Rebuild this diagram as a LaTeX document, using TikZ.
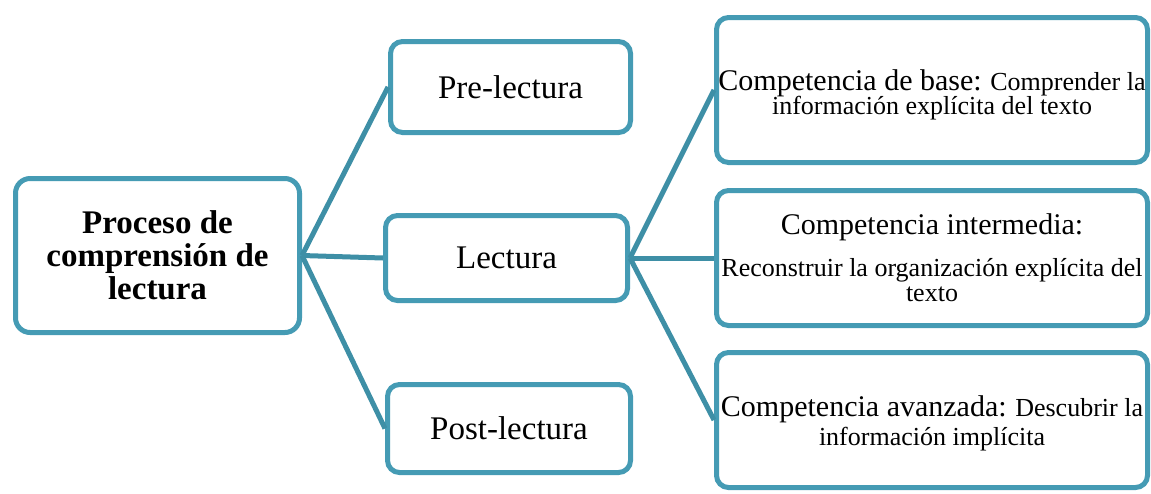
\documentclass[tikz,border=0pt]{standalone}
\usepackage{fontspec}
\setmainfont{Liberation Serif}
\definecolor{boxc}{RGB}{69,155,180}
\definecolor{linec}{RGB}{62,143,166}
\newcommand{\nolsk}{\lineskiplimit=-100pt\relax}
\begin{document}
\begin{tikzpicture}[x=0.75pt,y=-0.75pt,
  box/.style={draw=boxc, line width=3.75pt, rounded corners=9pt, fill=white, inner sep=0pt, align=center, text=black},
  conn/.style={draw=linec, line width=3.75pt},
  big/.style={font=\fontsize{24.75}{24.75}\selectfont\nolsk},
  ]
\useasboundingbox (0,0) rectangle (1151,493);
\node[box, rounded corners=11pt, minimum width=213pt, minimum height=115.5pt, font=\bfseries\fontsize{24.75}{24.75}\selectfont\nolsk] (proc) at (157.5,255.5) {Proceso de\\comprensión de\\lectura};
\node[box, big, minimum width=180pt, minimum height=68.25pt] (pre) at (510.5,87) {Pre-lectura};
\node[box, big, minimum width=181.5pt, minimum height=63.75pt] (lec) at (506.5,258) {Lectura};
\node[box, big, minimum width=182.25pt, minimum height=66pt] (post) at (509,428.5) {Post-lectura};
\node[box, minimum width=323.25pt, minimum height=108.75pt, font=\fontsize{19.5}{18}\selectfont\nolsk] (c1) at (932,90)
  {\rule{0pt}{22.5pt}{\fontsize{22.5}{18}\selectfont Competencia de base:} Comprender la\\información explícita del texto};
\node[box, minimum width=323.25pt, minimum height=101.25pt, font=\fontsize{19.5}{18.75}\selectfont\nolsk] (c2) at (932,258)
  {{\fontsize{22.5}{18.75}\selectfont Competencia intermedia:}\\[12.75pt]Reconstruir la organización explícita del\\texto};
\node[box, minimum width=323.25pt, minimum height=101.25pt, font=\fontsize{19.5}{21.75}\selectfont\nolsk] (c3) at (932,420)
  {\rule{0pt}{21pt}{\fontsize{22.5}{21.75}\selectfont Competencia avanzada:} Descubrir la\\información implícita};
\draw[conn] (proc.east) -- (pre.west);
\draw[conn] (proc.east) -- (lec.west);
\draw[conn] (proc.east) -- (post.west);
\draw[conn] (lec.east) -- (c1.west);
\draw[conn] (lec.east) -- (c2.west);
\draw[conn] (lec.east) -- (c3.west);
\end{tikzpicture}
\end{document}
